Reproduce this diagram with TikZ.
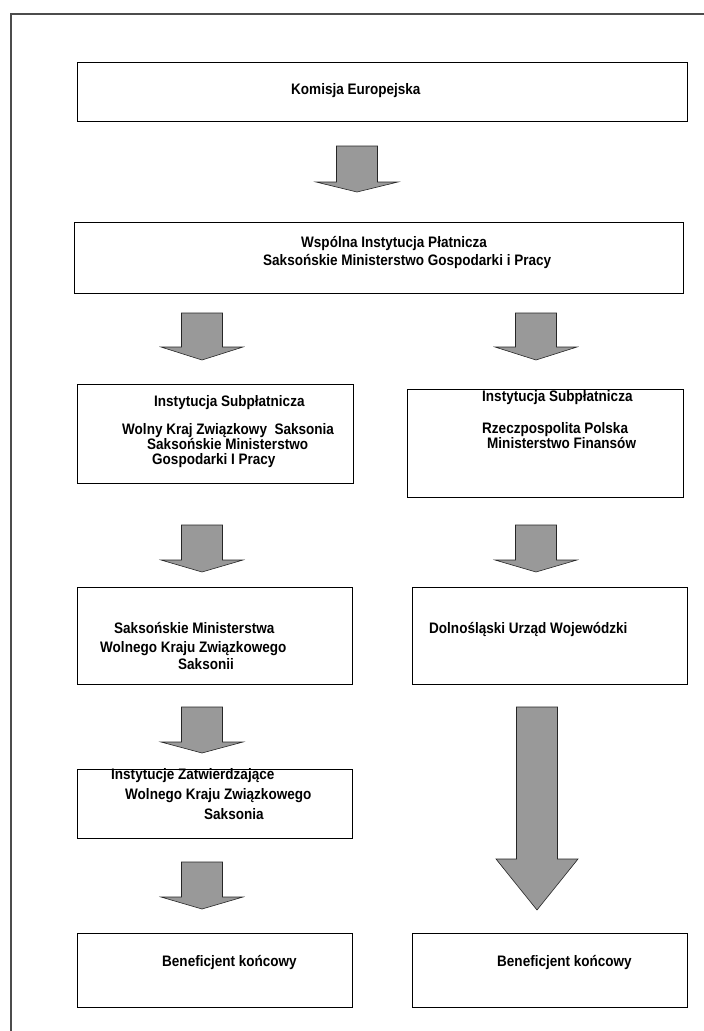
\documentclass[tikz,border=0pt]{standalone}
\usepackage{fontspec}
\setmainfont{Liberation Sans}[FakeStretch=0.89]
\usepackage{tikz}

\tikzset{
  box/.style={rectangle, draw=black, line width=0.9pt, inner sep=0pt},
  txt/.style={font=\bfseries\fontsize{15.2}{18}\selectfont, inner sep=0pt, anchor=base west},
  arrowfill/.style={fill=gray!80, draw=black!85, line width=0.6pt, line join=miter}
}
\newcommand{\blockarrow}[4]{%
  \draw[arrowfill] (#1-20.5,#2) -- (#1-20.5,#3) -- (#1-41,#3) -- (#1,#4)
    -- (#1+41,#3) -- (#1+20.5,#3) -- (#1+20.5,#2) -- cycle;}

\begin{document}
\begin{tikzpicture}[x=1pt, y=-1pt]
\useasboundingbox (0,0) rectangle (704,1031);
\draw[black!70, line width=1.5pt] (710,14) -| (11,1040);

\node[box, anchor=north west, minimum width=610pt, minimum height=59pt] (kom) at (77,62) {};
\node[txt] (kom-t) at (291,94) {Komisja Europejska};

\blockarrow{357}{146}{182}{192}

\node[box, anchor=north west, minimum width=609pt, minimum height=71pt] (wip) at (74,222) {};
\node[txt] (wip-t1) at (301,247) {Wspólna Instytucja Płatnicza};
\node[txt] (wip-t2) at (263,265) {Saksońskie Ministerstwo Gospodarki i Pracy};

\blockarrow{202}{313}{347}{360}
\blockarrow{536}{313}{347}{360}

\node[box, anchor=north west, minimum width=276pt, minimum height=99pt] (sub1) at (77,384) {};
\node[txt] (sub1-t1) at (154,406) {Instytucja Subpłatnicza};
\node[txt] (sub1-t2) at (122,434) {Wolny Kraj Związkowy\ \ Saksonia};
\node[txt] (sub1-t3) at (147,449) {Saksońskie Ministerstwo};
\node[txt] (sub1-t4) at (152,464) {Gospodarki I Pracy};

\node[box, anchor=north west, minimum width=276pt, minimum height=108pt] (sub2) at (407,389) {};
\node[txt] (sub2-t1) at (482,401) {Instytucja Subpłatnicza};
\node[txt] (sub2-t2) at (482,433) {Rzeczpospolita Polska};
\node[txt] (sub2-t3) at (487,448) {Ministerstwo Finansów};

\blockarrow{202}{525}{560}{572}
\blockarrow{536}{525}{560}{572}

\node[box, anchor=north west, minimum width=275pt, minimum height=97pt] (min) at (77,587) {};
\node[txt] (min-t1) at (114,633) {Saksońskie Ministerstwa};
\node[txt] (min-t2) at (100,652) {Wolnego Kraju Związkowego};
\node[txt] (min-t3) at (178,669) {Saksonii};

\node[box, anchor=north west, minimum width=275pt, minimum height=97pt] (duw) at (412,587) {};
\node[txt] (duw-t) at (429,633) {Dolnośląski Urząd Wojewódzki};

\blockarrow{202}{707}{742}{753}
\blockarrow{537}{707}{859}{910}

\node[box, anchor=north west, minimum width=275pt, minimum height=69pt] (zat) at (77,769) {};
\node[txt] (zat-t1) at (111,779) {Instytucje Zatwierdzające};
\node[txt] (zat-t2) at (125,799) {Wolnego Kraju Związkowego};
\node[txt] (zat-t3) at (204,819) {Saksonia};

\blockarrow{202}{862}{897}{909}

\node[box, anchor=north west, minimum width=275pt, minimum height=74pt] (ben1) at (77,933) {};
\node[txt] (ben1-t) at (162,966) {Beneficjent końcowy};

\node[box, anchor=north west, minimum width=275pt, minimum height=74pt] (ben2) at (412,933) {};
\node[txt] (ben2-t) at (497,966) {Beneficjent końcowy};

\end{tikzpicture}
\end{document}
